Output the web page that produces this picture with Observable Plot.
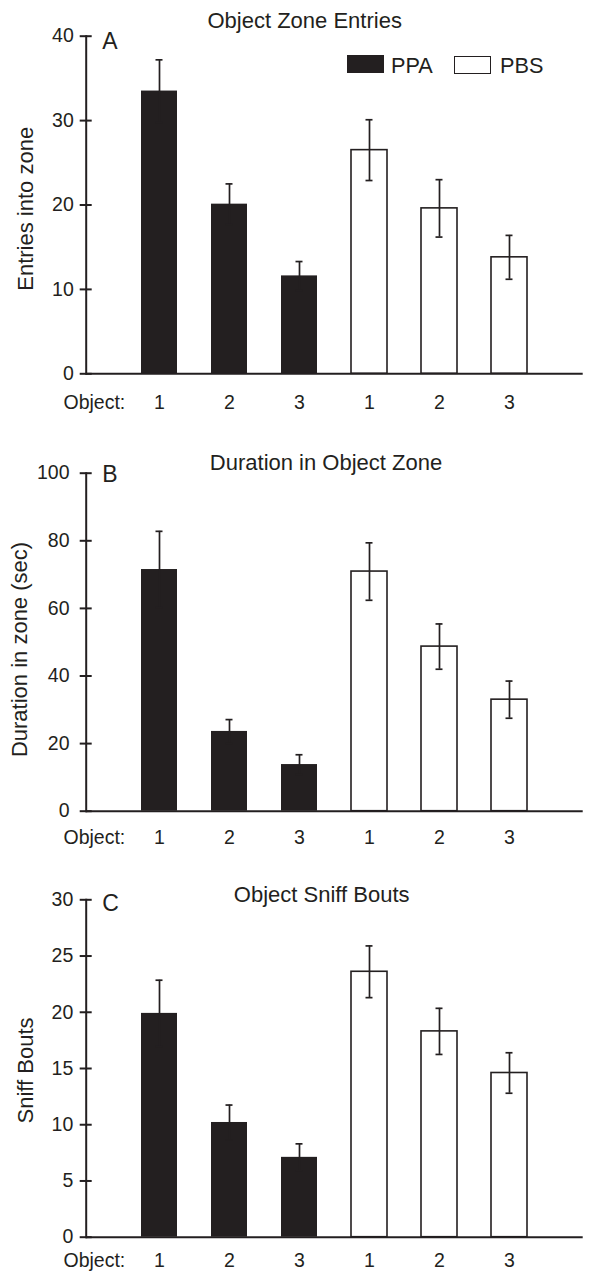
<!DOCTYPE html>
<html>
<head>
<meta charset="utf-8">
<script src="https://cdn.jsdelivr.net/npm/d3@7"></script>
<script src="https://cdn.jsdelivr.net/npm/@observablehq/plot@0.6"></script>
<style>
  body { margin: 0; background: #fff; }
  #wrap { position: relative; width: 589px; height: 1271px; font-family: "Liberation Sans", Arial, sans-serif; color: #231f20; }
  #wrap svg { display: block; }
  .sw { position: absolute; box-sizing: border-box; }
  .lt { position: absolute; font-size: 21.7px; line-height: 1; white-space: nowrap; }
</style>
</head>
<body>
<div id="wrap"></div>
<script>
// ---- data ----
const objects = ["1", "2", "3", "1", "2", "3"];
const groups = ["PPA", "PPA", "PPA", "PBS", "PBS", "PBS"];
const legendGroups = ["PPA", "PBS"];

const entriesMean = [33.5, 20.1, 11.6, 26.5, 19.6, 13.8];
const entriesSE   = [3.7, 2.4, 1.7, 3.6, 3.4, 2.6];

const durationMean = [71.5, 23.6, 13.8, 70.9, 48.7, 33.0];
const durationSE   = [11.3, 3.5, 2.9, 8.5, 6.7, 5.5];

const sniffMean = [19.9, 10.2, 7.1, 23.6, 18.3, 14.6];
const sniffSE   = [2.95, 1.55, 1.2, 2.3, 2.05, 1.8];

const entriesTicks = [0, 10, 20, 30, 40];
const durationTicks = [0, 20, 40, 60, 80, 100];
const sniffTicks = [0, 5, 10, 15, 20, 25, 30];

const titles = ["Object Zone Entries", "Duration in Object Zone", "Object Sniff Bouts"];
const letters = ["A", "B", "C"];
const yLabels = ["Entries into zone", "Duration in zone (sec)", "Sniff Bouts"];
const objectLabel = "Object:";

// ---- layout ----
const ink = "#231f20";
const font = "'Liberation Sans', Arial, Helvetica, sans-serif";
const W = 589, mL = 85.7, mR = 6.3;
const pInner = 0.4925, pOuter = 0.749;
const capW = 7;

const panels = [
  {mean: entriesMean, se: entriesSE, ticks: entriesTicks, height: 420, mt: 35.7, mb: 46.7, ytp: 6.4, xp: 21.7, tdx: -30, tdy: -8.7, ldy: 12.3, ydx: -52.7, ydy: 3.8},
  {mean: durationMean, se: durationSE, ticks: durationTicks, height: 430, mt: 52.7, mb: 39.3, ytp: 10.7, xp: 18.6, tdx: -8.7, tdy: -3.7, ldy: 9, ydx: -58.7, ydy: 7.3},
  {mean: sniffMean, se: sniffSE, ticks: sniffTicks, height: 421, mt: 49.3, mb: 34.3, ytp: 6.9, xp: 16.3, tdx: -13, tdy: 2.4, ldy: 10.7, ydx: -52.7, ydy: 2}
];

const wrap = document.getElementById("wrap");
const keys = objects.map((o, i) => groups[i] + "-" + o);
const step = (W - mL - mR) / (keys.length - pInner + 2 * pOuter);
const bandW = step * (1 - pInner);
const capInset = (bandW - capW) / 2;

panels.forEach((p, pi) => {
  const data = objects.map((o, i) => ({key: keys[i], object: o, group: groups[i], mean: p.mean[i], se: p.se[i]}));
  const chart = Plot.plot({
    width: W,
    height: p.height,
    marginLeft: mL,
    marginRight: mR,
    marginTop: p.mt,
    marginBottom: p.mb,
    style: {fontFamily: font, fontSize: "19.5px", color: ink, background: "white", overflow: "visible"},
    x: {domain: keys, paddingInner: pInner, paddingOuter: pOuter, axis: null, label: null},
    y: {domain: [p.ticks[0], p.ticks[p.ticks.length - 1]], axis: null, label: null},
    marks: [
      Plot.barY(data.filter(d => d.group === "PPA"), {x: "key", y: "mean", fill: ink}),
      Plot.barY(data.filter(d => d.group === "PBS"), {x: "key", y: "mean", fill: "white", stroke: ink, strokeWidth: 1.6}),
      Plot.ruleX(data, {x: "key", y1: d => d.mean - d.se, y2: d => d.mean + d.se, stroke: ink, strokeWidth: 1.7}),
      Plot.tickY(data, {x: "key", y: d => d.mean + d.se, stroke: ink, strokeWidth: 1.7, insetLeft: capInset, insetRight: capInset}),
      Plot.tickY(data, {x: "key", y: d => d.mean - d.se, stroke: ink, strokeWidth: 1.7, insetLeft: capInset, insetRight: capInset}),
      Plot.frame({anchor: "left", stroke: ink, strokeWidth: 2}),
      Plot.ruleY([0], {stroke: ink, strokeWidth: 2}),
      Plot.axisY(p.ticks, {label: null, tickSize: 12, dx: 6, tickPadding: p.ytp, strokeWidth: 2, stroke: ink, fill: ink, fontSize: 19.5, tickFormat: d => String(d)}),
      Plot.axisX({label: null, tickSize: 0, tickPadding: p.xp, fill: ink, fontSize: 19.5, tickFormat: k => k.split("-")[1]}),
      Plot.text([objectLabel], {text: d => d, frameAnchor: "bottom-left", textAnchor: "start", lineAnchor: "top", dx: -22.7, dy: p.xp, fill: ink, fontSize: 19.5}),
      Plot.text([titles[pi]], {text: d => d, frameAnchor: "top", lineAnchor: "bottom", dx: p.tdx, dy: p.tdy, fill: ink, fontSize: 22}),
      Plot.text([letters[pi]], {text: d => d, frameAnchor: "top-left", textAnchor: "start", lineAnchor: "bottom", dx: 16, dy: p.ldy, fill: ink, fontSize: 23}),
      Plot.text([yLabels[pi]], {text: d => d, frameAnchor: "left", rotate: -90, textAnchor: "middle", lineAnchor: "bottom", dx: p.ydx, dy: p.ydy, fill: ink, fontSize: 22})
    ]
  });
  wrap.appendChild(chart);
});

// ---- legend (panel A, inside plot area) ----
const legendItems = [
  {label: legendGroups[0], left: 346.7, top: 55, w: 37.3, h: 18.3, fill: ink, border: "none", tx: 391},
  {label: legendGroups[1], left: 454.3, top: 55.5, w: 36.7, h: 18, fill: "white", border: "1.6px solid " + ink, tx: 500}
];
legendItems.forEach(it => {
  const sw = document.createElement("div");
  sw.className = "sw";
  Object.assign(sw.style, {left: it.left + "px", top: it.top + "px", width: it.w + "px", height: it.h + "px", background: it.fill, border: it.border});
  wrap.appendChild(sw);
  const t = document.createElement("div");
  t.className = "lt";
  t.textContent = it.label;
  Object.assign(t.style, {left: it.tx + "px", top: (73.3 - 18.4) + "px"});
  wrap.appendChild(t);
});
</script>
</body>
</html>
